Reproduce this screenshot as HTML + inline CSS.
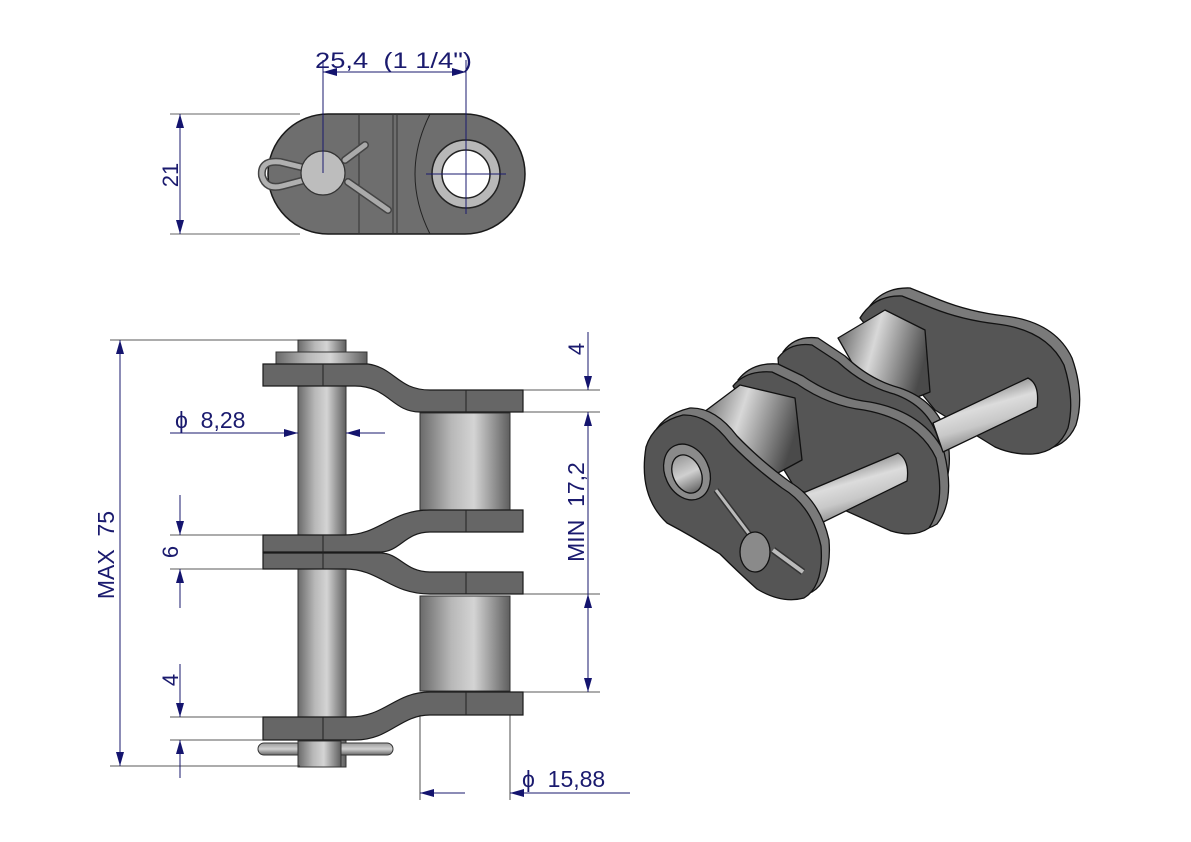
<!DOCTYPE html>
<html><head><meta charset="utf-8"><style>
html,body{margin:0;padding:0;background:#fff}
svg{display:block}
text{font-family:"Liberation Sans",sans-serif;fill:#1a1a6e;white-space:pre}
</style></head><body>
<svg width="1191" height="842" viewBox="0 0 1191 842" xmlns="http://www.w3.org/2000/svg">
<defs>
<linearGradient id="cyl" x1="0" x2="1" y1="0" y2="0">
<stop offset="0" stop-color="#6a6a6a"/><stop offset="0.35" stop-color="#b8b8b8"/><stop offset="0.6" stop-color="#d4d4d4"/><stop offset="1" stop-color="#5e5e5e"/></linearGradient>
<linearGradient id="cylv" x1="0" x2="0" y1="0" y2="1">
<stop offset="0" stop-color="#9a9a9a"/><stop offset="0.5" stop-color="#d0d0d0"/><stop offset="1" stop-color="#666"/></linearGradient>
<linearGradient id="cyld" x1="0.3" x2="0.7" y1="0" y2="1">
<stop offset="0" stop-color="#555"/><stop offset="0.4" stop-color="#dcdcdc"/><stop offset="0.6" stop-color="#c8c8c8"/><stop offset="1" stop-color="#555"/></linearGradient>
<linearGradient id="rol" x1="0" x2="1" y1="0" y2="0.3">
<stop offset="0" stop-color="#555"/><stop offset="0.45" stop-color="#d8d8d8"/><stop offset="1" stop-color="#4a4a4a"/></linearGradient>
<marker id="a" viewBox="0 0 14 8" refX="14" refY="4" markerWidth="14" markerHeight="8" markerUnits="userSpaceOnUse" orient="auto"><path d="M0,0 L14,4 L0,8z" fill="#14146e"/></marker>
</defs>

<!-- TOP VIEW -->
<rect x="268" y="114" width="257" height="120" rx="60" fill="#6e6e6e" stroke="#1a1a1a" stroke-width="1.5"/>
<line x1="359" y1="114" x2="359" y2="234" stroke="#333"/>
<line x1="393" y1="114" x2="393" y2="234" stroke="#333"/>
<line x1="397" y1="114" x2="397" y2="234" stroke="#333"/>
<path d="M430,114 Q400,174 430,234" fill="none" stroke="#222"/>
<circle cx="466" cy="174" r="34" fill="#b8b8b8" stroke="#222" stroke-width="1.5"/>
<circle cx="466" cy="174" r="24" fill="#fff" stroke="#222" stroke-width="1.5"/>
<line x1="426" y1="174" x2="506" y2="174" stroke="#1a1a6e" stroke-width="1"/>
<line x1="466" y1="140" x2="466" y2="214" stroke="#1a1a6e"/>
<path d="M345,160 L365,145" stroke="#444" stroke-width="8" stroke-linecap="round"/>
<path d="M345,160 L365,145" stroke="#aaa" stroke-width="5" stroke-linecap="round"/>
<path d="M348,182 L388,210" stroke="#444" stroke-width="8" stroke-linecap="round"/>
<path d="M348,182 L388,210" stroke="#aaa" stroke-width="5" stroke-linecap="round"/>
<path d="M305,168 L280,162 Q260,160 262,176 Q266,190 282,186 L305,180" fill="none" stroke="#444" stroke-width="8"/>
<path d="M305,168 L280,162 Q260,160 262,176 Q266,190 282,186 L305,180" fill="none" stroke="#b0b0b0" stroke-width="5"/>
<circle cx="323" cy="173" r="22" fill="#bdbdbd" stroke="#333" stroke-width="1.2"/>
<!-- dims top -->
<line x1="323" y1="60" x2="323" y2="173" stroke="#1a1a6e"/>
<line x1="466" y1="60" x2="466" y2="140" stroke="#1a1a6e"/>
<line x1="400" y1="72" x2="323" y2="72" stroke="#1a1a6e" marker-end="url(#a)"/>
<line x1="390" y1="72" x2="466" y2="72" stroke="#1a1a6e" marker-end="url(#a)"/>
<text x="315" y="68" font-size="22" textLength="157" lengthAdjust="spacingAndGlyphs">25,4  (1 1/4")</text>
<line x1="170" y1="114" x2="300" y2="114" stroke="#333" stroke-width="0.8"/>
<line x1="170" y1="234" x2="300" y2="234" stroke="#333" stroke-width="0.8"/>
<line x1="180" y1="174" x2="180" y2="114" stroke="#1a1a6e" marker-end="url(#a)"/>
<line x1="180" y1="174" x2="180" y2="234" stroke="#1a1a6e" marker-end="url(#a)"/>
<text transform="translate(178,175) rotate(-90)" font-size="22" text-anchor="middle">21</text>

<!-- SIDE VIEW -->
<rect x="298" y="340" width="48" height="427" fill="url(#cyl)" stroke="#333"/>
<rect x="276" y="352" width="91" height="12" fill="url(#cyl)" stroke="#333"/>
<rect x="420" y="413" width="90" height="97" fill="url(#cyl)" stroke="#333"/>
<rect x="420" y="596" width="90" height="95" fill="url(#cyl)" stroke="#333"/>
<g fill="#666" stroke="#1a1a1a" stroke-width="1.2">
<path d="M263,364 L368,364 C395,368 398,390 430,390 L523,390 L523,412 L420,412 C392,412 388,386 355,386 L263,386 Z"/>
<path d="M263,535 L345,535 C380,535 390,510 430,510 L523,510 L523,532 L430,532 C405,532 400,552 380,552 L263,552 Z"/>
<path d="M263,553 L380,553 C400,553 405,572 430,572 L523,572 L523,594 L430,594 C390,594 380,569 345,569 L263,569 Z"/>
<path d="M263,717 L350,717 C385,717 395,692 430,692 L523,692 L523,715 L430,715 C400,715 390,740 355,740 L263,740 Z"/>
</g>
<g stroke="#222" stroke-width="1"><line x1="323" y1="364" x2="323" y2="386"/><line x1="323" y1="535" x2="323" y2="569"/><line x1="323" y1="717" x2="323" y2="740"/>
<line x1="466" y1="390" x2="466" y2="412"/><line x1="466" y1="510" x2="466" y2="532"/><line x1="466" y1="572" x2="466" y2="594"/><line x1="466" y1="692" x2="466" y2="715"/></g>
<rect x="258" y="743" width="135" height="12" rx="6" fill="url(#cylv)" stroke="#333"/>
<rect x="298" y="741" width="43" height="26" fill="url(#cyl)" stroke="#333"/>
<!-- side dims -->
<g stroke="#222" stroke-width="0.8">
<line x1="110" y1="340" x2="340" y2="340"/><line x1="110" y1="766" x2="300" y2="766"/>
<line x1="170" y1="535" x2="263" y2="535"/><line x1="170" y1="569" x2="263" y2="569"/>
<line x1="170" y1="717" x2="263" y2="717"/><line x1="170" y1="740" x2="263" y2="740"/>
<line x1="523" y1="390" x2="600" y2="390"/><line x1="523" y1="412" x2="600" y2="412"/>
<line x1="523" y1="594" x2="600" y2="594"/><line x1="523" y1="692" x2="600" y2="692"/>
<line x1="420" y1="715" x2="420" y2="800"/><line x1="510" y1="715" x2="510" y2="800"/>
</g>
<line x1="120" y1="550" x2="120" y2="340" stroke="#1a1a6e" marker-end="url(#a)"/>
<line x1="120" y1="550" x2="120" y2="766" stroke="#1a1a6e" marker-end="url(#a)"/>
<text transform="translate(114,555) rotate(-90)" font-size="23" text-anchor="middle">MAX  75</text>
<line x1="180" y1="495" x2="180" y2="535" stroke="#1a1a6e" marker-end="url(#a)"/>
<line x1="180" y1="608" x2="180" y2="569" stroke="#1a1a6e" marker-end="url(#a)"/>
<text transform="translate(178,552) rotate(-90)" font-size="22" text-anchor="middle">6</text>
<line x1="180" y1="664" x2="180" y2="717" stroke="#1a1a6e" marker-end="url(#a)"/>
<line x1="180" y1="778" x2="180" y2="740" stroke="#1a1a6e" marker-end="url(#a)"/>
<text transform="translate(178,680) rotate(-90)" font-size="22" text-anchor="middle">4</text>
<line x1="170" y1="433" x2="298" y2="433" stroke="#1a1a6e" marker-end="url(#a)"/>
<line x1="385" y1="433" x2="346" y2="433" stroke="#1a1a6e" marker-end="url(#a)"/>
<text x="175" y="428" font-size="23">ϕ  8,28</text>
<line x1="588" y1="332" x2="588" y2="390" stroke="#1a1a6e" marker-end="url(#a)"/>
<line x1="588" y1="460" x2="588" y2="412" stroke="#1a1a6e" marker-end="url(#a)"/>
<line x1="588" y1="643" x2="588" y2="594" stroke="#1a1a6e" marker-end="url(#a)"/>
<line x1="588" y1="643" x2="588" y2="692" stroke="#1a1a6e" marker-end="url(#a)"/>
<line x1="588" y1="460" x2="588" y2="594" stroke="#1a1a6e"/>
<text transform="translate(584,349) rotate(-90)" font-size="22" text-anchor="middle">4</text>
<text transform="translate(584,512) rotate(-90)" font-size="23" text-anchor="middle">MIN  17,2</text>
<line x1="465" y1="793" x2="420" y2="793" stroke="#1a1a6e" marker-end="url(#a)"/>
<line x1="630" y1="793" x2="510" y2="793" stroke="#1a1a6e" marker-end="url(#a)"/>
<text x="522" y="787" font-size="23">ϕ  15,88</text>

<!-- ISOMETRIC -->
<g stroke="#111" stroke-width="1.3" stroke-linejoin="round">
<!-- back outer plate -->
<path d="M866,312 Q880,287 910,288 L940,300 Q970,312 1005,316 Q1055,322 1072,358 Q1085,395 1076,425 Q1066,448 1040,450 Q1020,451 1002,442 L940,402 Z" fill="#7a7a7a"/>
<path d="M860,318 Q874,295 902,296 L932,308 Q962,320 997,324 Q1047,330 1064,365 Q1075,400 1068,428 Q1058,452 1033,454 Q1013,455 995,447 L935,410 Z" fill="#555"/>
<!-- back roller -->
<path d="M838,338 L885,310 L925,330 L930,392 L880,412 Z" fill="url(#rol)"/>
<!-- back inner plate -->
<path d="M783,352 Q795,335 818,338 L845,356 Q870,380 900,388 Q935,400 946,432 Q955,470 940,496 Q928,508 905,505 L790,445 Z" fill="#777"/>
<path d="M778,358 Q790,342 812,345 L838,362 Q864,386 894,394 Q928,406 938,438 Q946,475 932,500 Q918,512 897,509 L785,450 Z" fill="#555"/>
<!-- front inner plate -->
<path d="M738,380 Q752,362 778,364 L803,376 Q835,398 870,402 Q924,412 944,452 Q956,500 937,524 Q922,534 898,527 L800,482 Z" fill="#777"/>
<path d="M733,386 Q746,370 772,372 L797,384 Q829,406 864,410 Q918,420 936,458 Q946,502 929,528 Q914,538 891,531 L795,488 Z" fill="#555"/>
<!-- front roller -->
<path d="M700,415 L740,385 L795,398 L802,460 L765,480 Z" fill="url(#rol)"/>
<!-- rear pin -->
<path d="M933,423 L1028,378 Q1040,384 1037,407 L943,452 Z" fill="url(#cyld)"/>
<!-- front pin -->
<path d="M803,493 L898,453 Q910,460 907,481 L813,527 Z" fill="url(#cyld)"/>
<!-- front outer plate -->
<path d="M651,440 Q660,415 690,408 Q715,407 737,436 Q760,460 790,482 Q820,500 829,540 Q832,580 812,592 Q790,598 765,583 Q745,565 728,548 Q700,530 675,517 Q645,490 651,440 Z" fill="#7a7a7a"/>
<path d="M646,447 Q654,422 683,415 Q708,414 730,443 Q752,466 782,488 Q812,506 821,546 Q824,586 804,598 Q782,604 757,589 Q737,571 720,554 Q692,536 667,523 Q638,496 646,447 Z" fill="#555"/>
<!-- hole -->
<ellipse cx="687" cy="472" rx="22" ry="29" transform="rotate(-25 687 472)" fill="#8a8a8a"/>
<ellipse cx="687" cy="474" rx="14" ry="20" transform="rotate(-25 687 474)" fill="url(#cylv)"/>
<!-- cotter -->
<path d="M716,490 L750,535" stroke="#333" stroke-width="6" fill="none"/>
<path d="M716,490 L750,535" stroke="#bbb" stroke-width="3" fill="none"/>
<ellipse cx="755" cy="552" rx="15" ry="20" fill="#8a8a8a"/>
<path d="M773,550 L803,572" stroke="#333" stroke-width="7"/>
<path d="M773,550 L803,572" stroke="#bbb" stroke-width="4"/>
</g>
</svg>
</body></html>
